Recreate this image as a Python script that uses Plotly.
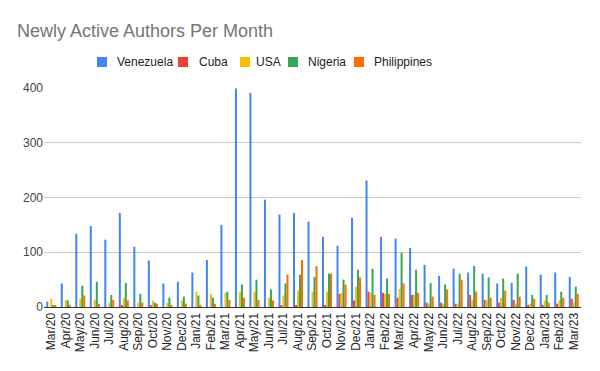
import plotly.graph_objects as go

months = ["Mar/20", "Apr/20", "May/20", "Jun/20", "Jul/20", "Aug/20", "Sep/20", "Oct/20",
          "Nov/20", "Dec/20", "Jan/21", "Feb/21", "Mar/21", "Apr/21", "May/21", "Jun/21",
          "Jul/21", "Aug/21", "Sep/21", "Oct/21", "Nov/21", "Dec/21", "Jan/22", "Feb/22",
          "Mar/22", "Apr/22", "May/22", "Jun/22", "Jul/22", "Aug/22", "Sep/22", "Oct/22",
          "Nov/22", "Dec/22", "Jan/23", "Feb/23", "Mar/23"]

venezuela = [10, 43, 134, 148, 123, 172, 110, 85, 43, 46, 63, 86, 150, 399, 391, 196,
             169, 172, 156, 128, 112, 163, 231, 128, 125, 108, 77, 57, 70, 63, 61, 43,
             44, 74, 59, 63, 55]
cuba = [0, 0, 0, 0, 0, 2, 0, 2, 0, 0, 0, 0, 0, 0, 0, 0,
        2, 2, 0, 2, 24, 12, 28, 26, 17, 22, 8, 8, 6, 22, 13, 8,
        13, 4, 4, 6, 15]
usa = [15, 13, 15, 13, 8, 17, 8, 12, 8, 12, 28, 24, 26, 28, 28, 17,
       21, 30, 28, 28, 26, 37, 26, 24, 33, 22, 6, 6, 6, 12, 12, 17,
       6, 6, 12, 12, 8]
nigeria = [2, 12, 39, 46, 22, 44, 24, 8, 17, 19, 21, 17, 28, 41, 50, 32,
           43, 59, 55, 61, 50, 68, 70, 52, 99, 68, 44, 41, 61, 75, 54, 52,
           61, 22, 22, 28, 37]
philippines = [2, 4, 21, 6, 13, 12, 8, 6, 2, 6, 4, 6, 13, 17, 13, 12,
               59, 86, 75, 61, 41, 54, 22, 24, 43, 26, 19, 32, 50, 28, 17, 30,
               19, 15, 8, 17, 24]

series_names = ["Venezuela", "Cuba", "USA", "Nigeria", "Philippines"]
series_values = [venezuela, cuba, usa, nigeria, philippines]
series_colors = ["#4285F4", "#EA4335", "#FBBC04", "#34A853", "#FF6D01"]

# Page body has an 8px margin; layout below is expressed in figure pixels.
W, H = 600, 371
ML, MR, MT, MB = 36, 27, 80, 72
PW = W - ML - MR
PH = H - MT - MB


def px_to_paper_x(x):
    return (x - ML) / PW


def px_to_paper_y(y):
    return (H - MB - y) / PH


fig = go.Figure()
for name, vals, color in zip(series_names, series_values, series_colors):
    fig.add_trace(go.Bar(x=months, y=vals, name=name, showlegend=False,
                         marker=dict(color=color, line=dict(width=0))))

font_family = "Liberation Sans, Arial, sans-serif"

# Manual legend (figure pixel positions)
legend_square_x = [89, 170, 232, 280, 346]
legend_text_x = [107, 189, 246, 298, 364]
legend_cy = 54
shapes = []
annotations = []
for name, color, sx, tx in zip(series_names, series_colors, legend_square_x, legend_text_x):
    shapes.append(dict(type="rect", xref="paper", yref="paper",
                       x0=px_to_paper_x(sx), x1=px_to_paper_x(sx + 10),
                       y0=px_to_paper_y(legend_cy + 5), y1=px_to_paper_y(legend_cy - 5),
                       fillcolor=color, line=dict(width=0)))
    annotations.append(dict(text=name, xref="paper", yref="paper",
                            x=px_to_paper_x(tx), y=px_to_paper_y(legend_cy),
                            xanchor="left", yanchor="middle", showarrow=False,
                            font=dict(family=font_family, size=12, color="#222222")))

fig.update_layout(
    width=W, height=H,
    paper_bgcolor="white", plot_bgcolor="white",
    margin=dict(l=ML, r=MR, t=MT, b=MB, autoexpand=False),
    barmode="group", bargap=0.31, bargroupgap=0,
    font=dict(family=font_family, size=12, color="#222222"),
    title=dict(text="Newly Active Authors Per Month", x=9 / W, xanchor="left",
               xref="container", yref="container", y=1 - 23 / H, yanchor="middle",
               font=dict(family=font_family, size=18, color="#757575")),
    showlegend=False,
    shapes=shapes,
    annotations=annotations,
)
fig.update_xaxes(tickangle=-90, showgrid=False, showline=True, linecolor="#333333", linewidth=1,
                 ticks="", tickfont=dict(size=12, color="#222222"), automargin=False)
fig.update_yaxes(range=[0, 400], tickvals=[0, 100, 200, 300, 400], showgrid=True,
                 gridcolor="#cccccc", gridwidth=1, zeroline=False, ticks="",
                 tickfont=dict(size=12, color="#444444"), automargin=False)

fig.write_html("out.html")
